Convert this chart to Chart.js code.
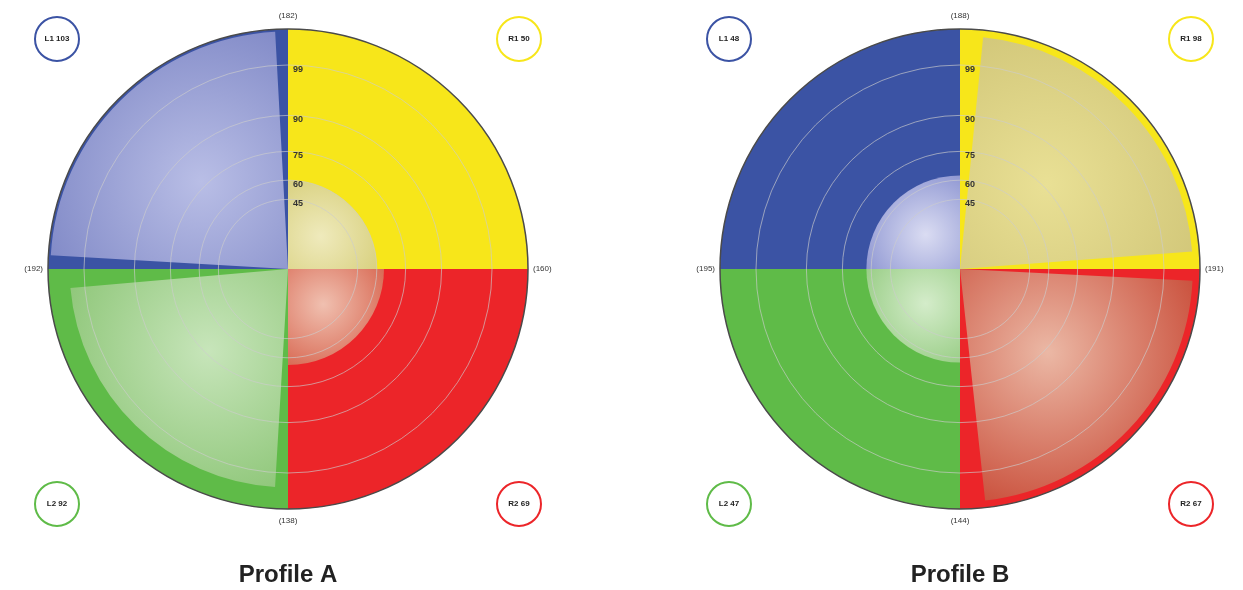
<!DOCTYPE html>
<html>
<head>
<meta charset="utf-8">
<script src="https://cdn.jsdelivr.net/npm/chart.js@4.4.1/dist/chart.umd.min.js"></script>
<style>
    body { margin: 0; background: #fff; width: 1243px; height: 590px; overflow: hidden; position: relative; }
    .caja { position: absolute; top: 0; width: 560px; height: 590px; }
</style>
</head>
<body>
<div class="caja" style="left:8px"><canvas id="perfilA"></canvas></div>
<div class="caja" style="left:680px"><canvas id="perfilB"></canvas></div>
<script>
// Cuadrantes en sentido horario desde arriba
const cuadrantes = ['R1', 'R2', 'L2', 'L1'];
const coloresBase = ['#f7e61a', '#ec2529', '#5fbb48', '#3b53a4'];

// Anillos de la escala (valor de escala -> etiqueta)
const ticksEscala = [0, 29, 37, 49, 64, 85, 100];
const etiquetasTicks = ['', '45', '60', '75', '90', '99', ''];

// Perfil A
const bordesA = ['(182)', '(160)', '(138)', '(192)'];      // arriba, derecha, abajo, izquierda
const puntajesA = ['50', '69', '92', '103'];                 // R1, R2, L2, L1
const valoresA = [37, 40, 91, 99];
const inicioA = [0, 0, 3.4, 3.3];
const finA = [0, 0, 5, 3.1];

// Perfil B
const bordesB = ['(188)', '(191)', '(144)', '(195)'];
const puntajesB = ['98', '67', '47', '48'];
const valoresB = [97, 97, 39, 39];
const inicioB = [5.7, 2.9, 0, 0];
const finB = [4.3, 6.2, 0, 0];

// Colores del sector claro [borde, brillo]
const capaA = [['#d8d07e', '#efeabc'], ['#d86852', '#f0c0b0'], ['#8cc576', '#c7e5ba'], ['#7f88c6', '#b9bee6']];
const capaB = [['#d1c678', '#e9e095'], ['#c84a36', '#ebb8a5'], ['#98cd85', '#d4ecca'], ['#8e96d2', '#dadcf2']];

Chart.defaults.font.family = "'Liberation Sans', Arial, sans-serif";
Chart.defaults.animation = false;

// ==========================================
// Plugin: etiquetas de borde e insignias
// ==========================================
const pluginPerfil = {
    id: 'perfil',
    afterDraw(chart, args, opts) {
        const r = chart.scales.r;
        const cx = r.xCenter, cy = r.yCenter, R = r.drawingArea;
        const c = chart.ctx;
        c.save();
        c.font = '8px "Liberation Sans", Arial';
        c.fillStyle = '#333';
        c.textBaseline = 'middle';
        c.textAlign = 'center';
        c.fillText(opts.bordes[0], cx, cy - R - 13);
        c.fillText(opts.bordes[2], cx, cy + R + 12);
        c.textAlign = 'left';
        c.fillText(opts.bordes[1], cx + R + 5, cy);
        c.textAlign = 'right';
        c.fillText(opts.bordes[3], cx - R - 5, cy);

        // insignias de las esquinas
        const offs = [[1, -1], [1, 1], [-1, 1], [-1, -1]];
        offs.forEach((o, i) => {
            const x = cx + o[0] * 231;
            const y = cy + (o[1] < 0 ? -230 : 235);
            c.beginPath();
            c.arc(x, y, 22, 0, Math.PI * 2);
            c.fillStyle = '#fff';
            c.fill();
            c.lineWidth = 2;
            c.strokeStyle = coloresBase[i];
            c.stroke();
            c.fillStyle = '#222';
            c.font = 'bold 8px "Liberation Sans", Arial';
            c.textAlign = 'center';
            c.fillText(cuadrantes[i] + ' ' + opts.puntajes[i], x, y);
        });
        c.restore();
    }
};

function construirSegmentos(valores, inicio, fin) {
    const data = [], angulos = [];
    for (let i = 0; i < 4; i++) {
        const a = inicio[i] || 0.01;
        const b = fin[i] || 0.01;
        data.push(0, valores[i], 0);
        angulos.push(a, 90 - a - b, b);
    }
    return { data, angulos };
}

function crearPerfil(id, titulo, bordes, puntajes, valores, inicio, fin, capa) {
    const seg = construirSegmentos(valores, inicio, fin);

    const colorCapa = (ctx) => {
        const i = ctx.dataIndex;
        if (i % 3 !== 1) return 'rgba(0,0,0,0)';
        const q = Math.floor(i / 3);
        const scale = ctx.chart.scales.r;
        if (!scale || scale.xCenter === undefined) return capa[q][0];
        const medio = q * 90 + (inicio[q] || 0) + (90 - (inicio[q] || 0) - (fin[q] || 0)) / 2;
        const th = (medio - 90) * Math.PI / 180;
        const rOut = scale.getDistanceFromCenterForValue(valores[q]);
        const hx = scale.xCenter + Math.cos(th) * rOut * 0.52;
        const hy = scale.yCenter + Math.sin(th) * rOut * 0.52;
        const g = ctx.chart.ctx.createRadialGradient(hx, hy, 0, hx, hy, rOut * 0.75);
        g.addColorStop(0, capa[q][1]);
        g.addColorStop(1, capa[q][0]);
        return g;
    };

    return new Chart(document.getElementById(id), {
        type: 'polarArea',
        plugins: [pluginPerfil],
        data: {
            labels: bordes,
            datasets: [
                {
                    data: seg.data,
                    angle: (ctx) => seg.angulos[ctx.dataIndex],
                    backgroundColor: colorCapa,
                    borderWidth: 0,
                    order: 0
                },
                {
                    data: [100, 100, 100, 100],
                    angle: 90,
                    backgroundColor: coloresBase,
                    borderWidth: 0,
                    order: 1
                }
            ]
        },
        options: {
            responsive: true,
            maintainAspectRatio: false,
            layout: { padding: { top: 23, bottom: 0, left: 0, right: 0 } },
            plugins: {
                legend: { display: false },
                tooltip: { enabled: false },
                title: {
                    display: true,
                    position: 'bottom',
                    text: titulo,
                    color: '#222',
                    font: { size: 24, weight: 'bold' },
                    padding: { top: 45, bottom: 0 }
                },
                perfil: { bordes: bordes, puntajes: puntajes }
            },
            scales: {
                r: {
                    min: 0,
                    max: 100,
                    startAngle: 0,
                    angleLines: { display: false },
                    pointLabels: { display: false },
                    afterBuildTicks: (s) => { s.ticks = ticksEscala.map(v => ({ value: v })); },
                    grid: {
                        z: 1,
                        color: (ctx) => ctx.tick && ctx.tick.value === 100 ? '#4a4a4a' : 'rgba(205,205,205,0.65)',
                        lineWidth: (ctx) => ctx.tick && ctx.tick.value === 100 ? 1.5 : 1
                    },
                    ticks: {
                        z: 2,
                        showLabelBackdrop: false,
                        color: '#333',
                        font: { size: 9, weight: 'bold', lineHeight: 0.45 },
                        callback: (v, i) => ['', '        ' + (etiquetasTicks[i] || '')]
                    }
                }
            }
        }
    });
}

crearPerfil('perfilA', 'Profile A', bordesA, puntajesA, valoresA, inicioA, finA, capaA);
crearPerfil('perfilB', 'Profile B', bordesB, puntajesB, valoresB, inicioB, finB, capaB);
</script>
</body>
</html>
